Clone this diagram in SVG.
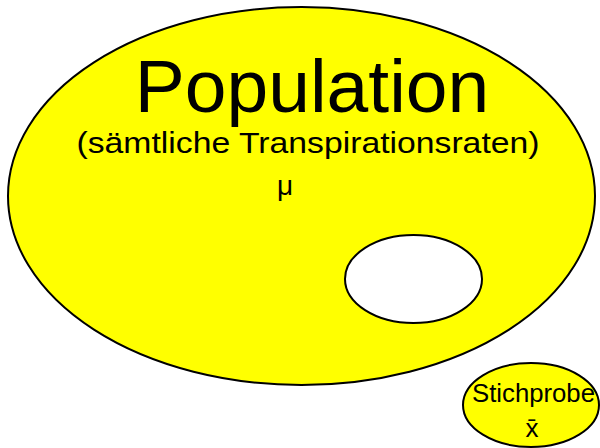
<svg xmlns="http://www.w3.org/2000/svg" width="600" height="448" viewBox="0 0 600 448">
<style>
.shape{stroke:#000;stroke-width:2}
.yellow{fill:#ffff00}
.white{fill:#ffffff}
text{font-family:"Liberation Sans",Arial,sans-serif;fill:#000;text-anchor:middle}
</style>
<rect width="600" height="448" fill="#ffffff"/>
<g id="population">
<ellipse class="shape yellow" cx="301.5" cy="196" rx="293.5" ry="189"/>
<text x="312" y="112" font-size="75">Population</text>
<text x="308" y="153" font-size="30" textLength="463" lengthAdjust="spacingAndGlyphs">(sämtliche Transpirationsraten)</text>
<text x="285" y="195" font-size="28">μ</text>
</g>
<g id="sample-in-population">
<ellipse class="shape white" cx="413.5" cy="279" rx="68.5" ry="44"/>
</g>
<g id="stichprobe">
<ellipse class="shape yellow" cx="531" cy="405" rx="68" ry="42"/>
<text x="533.5" y="402" font-size="25" textLength="123" lengthAdjust="spacingAndGlyphs">Stichprobe</text>
<text x="532" y="437" font-size="26">x̄</text>
</g>
<g id="connectors"></g>
</svg>
